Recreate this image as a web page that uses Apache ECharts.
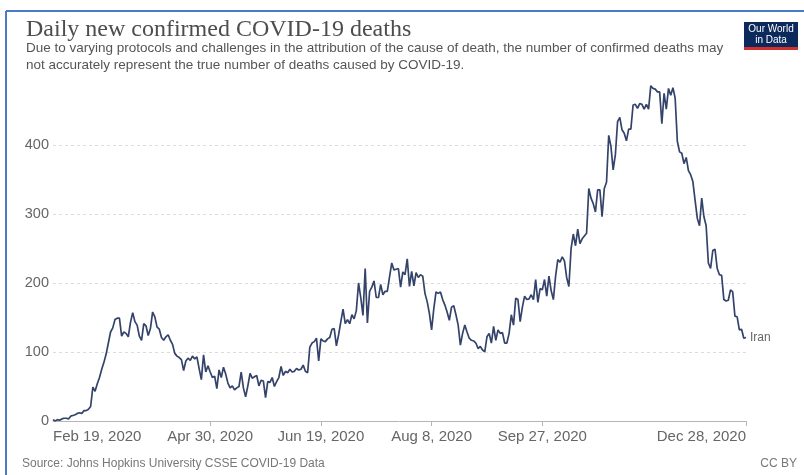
<!DOCTYPE html>
<html><head><meta charset="utf-8">
<script src="https://cdn.jsdelivr.net/npm/echarts@6/dist/echarts.min.js"></script>
<style>html,body{margin:0;padding:0;background:#fff}#c{width:804px;height:475px}</style>
</head><body><div id="c"></div>
<script>
// Iran, daily new confirmed COVID-19 deaths, Feb 19 2020 .. Dec 28 2020
const startYear = 2020, startMonth = 1, startDay = 19; // Feb 19, 2020
const feb = [2, 0, 2, 1, 3, 4, 4, 3, 7, 8, 9];
const mar = [11, 12, 11, 15, 15, 17, 21, 49, 43, 54, 63, 75, 85, 97, 113, 129, 135, 147, 149, 149, 123, 129, 127, 122, 143, 157, 144, 139, 123, 117, 141];
const apr = [138, 124, 134, 158, 151, 136, 133, 121, 117, 122, 125, 117, 111, 98, 94, 92, 89, 73, 87, 91, 88, 94, 90, 93, 76, 60, 96, 71, 80, 71];
const may = [63, 65, 47, 74, 63, 78, 68, 55, 48, 51, 45, 48, 50, 71, 48, 35, 51, 69, 62, 64, 66, 51, 59, 58, 34, 57, 56, 63, 50, 57, 63];
const jun = [79, 66, 72, 70, 75, 71, 72, 76, 74, 75, 81, 72, 70, 107, 113, 115, 120, 87, 119, 116, 115, 119, 121, 133, 134, 109, 125, 144, 162, 141];
const jul = [147, 141, 154, 148, 160, 200, 179, 153, 221, 142, 188, 194, 203, 179, 179, 198, 183, 188, 188, 209, 229, 219, 220, 221, 194, 216, 212, 235, 195, 217, 196];
const aug = [215, 208, 212, 210, 185, 173, 156, 132, 163, 187, 185, 187, 176, 168, 158, 146, 165, 167, 154, 139, 110, 127, 139, 129, 120, 117, 116, 113, 105, 108, 103];
const sep = [100, 122, 127, 113, 137, 117, 132, 127, 128, 113, 113, 127, 154, 139, 178, 176, 144, 165, 181, 176, 177, 183, 176, 205, 172, 192, 190, 205, 181, 210];
const oct = [189, 176, 210, 234, 230, 238, 232, 208, 195, 250, 271, 254, 278, 257, 264, 268, 272, 337, 323, 315, 303, 335, 335, 296, 337, 346, 414, 398, 364, 386, 434];
const nov = [440, 422, 417, 406, 423, 423, 458, 459, 453, 460, 459, 452, 459, 452, 486, 482, 481, 477, 477, 431, 475, 452, 482, 472, 483, 468, 405, 390, 388, 373];
const dec = [382, 363, 357, 347, 320, 294, 283, 323, 296, 283, 229, 221, 247, 249, 221, 212, 211, 176, 174, 175, 190, 187, 152, 151, 132, 133, 120, 121];
const tickLabels = ["Feb 19, 2020", "Apr 30, 2020", "Jun 19, 2020", "Aug 8, 2020", "Sep 27, 2020", "Dec 28, 2020"];
const seriesName = "Iran";

const values = [].concat(feb, mar, apr, may, jun, jul, aug, sep, oct, nov, dec);
const monthNames = ["Jan","Feb","Mar","Apr","May","Jun","Jul","Aug","Sep","Oct","Nov","Dec"];
const categories = values.map((v, i) => {
  const d = new Date(Date.UTC(startYear, startMonth, startDay + i));
  return monthNames[d.getUTCMonth()] + " " + d.getUTCDate() + ", " + d.getUTCFullYear();
});

const chart = echarts.init(document.getElementById('c'), null, {renderer: 'canvas'});
const sans = "'Liberation Sans', Arial, sans-serif";
chart.setOption({
  animation: false,
  backgroundColor: '#fff',
  title: [{
    text: 'Daily new confirmed COVID-19 deaths',
    left: 21, top: 12,
    textStyle: {fontFamily: "'Liberation Serif', serif", fontSize: 24, fontWeight: 'normal', color: '#4d4d4d', lineHeight: 26}
  }, {
    text: 'Due to varying protocols and challenges in the attribution of the cause of death, the number of confirmed deaths may\nnot accurately represent the true number of deaths caused by COVID-19.',
    left: 21, top: 35,
    textStyle: {fontFamily: sans, fontSize: 13.5, fontWeight: 'normal', color: '#555', lineHeight: 17}
  }],
  grid: {left: 53, right: 58, top: 76, bottom: 54, containLabel: false},
  xAxis: {
    type: 'category', data: categories, boundaryGap: false,
    axisLine: {show: true, lineStyle: {color: '#b5b5b5', width: 1}},
    axisTick: {show: true, length: 5, lineStyle: {color: '#b5b5b5'},
      interval: (i, v) => i > 0 && tickLabels.indexOf(v) >= 0},
    axisLabel: {
      interval: (i, v) => tickLabels.indexOf(v) >= 0,
      color: '#666', fontFamily: sans, fontSize: 15, margin: 8,
      alignMinLabel: 'left', alignMaxLabel: 'right', hideOverlap: false
    },
    splitLine: {show: false}
  },
  yAxis: {
    type: 'value', min: 0, max: 500, interval: 100,
    axisLine: {show: false}, axisTick: {show: false},
    axisLabel: {color: '#666', fontFamily: sans, fontSize: 14.5, margin: 4, showMaxLabel: false},
    splitLine: {show: true, showMinLine: false, showMaxLine: false, lineStyle: {color: '#dcdcdc', type: [3, 3], width: 1}}
  },
  series: [{
    name: seriesName, type: 'line', data: values, showSymbol: false,
    lineStyle: {color: '#34436a', width: 1.7}, itemStyle: {color: '#34436a'},
    endLabel: {show: true, formatter: seriesName, color: '#666', fontFamily: sans, fontSize: 12, distance: 4}
  }],
  graphic: [
    {type: 'line', shape: {x1: 6, y1: 11, x2: 804, y2: 11}, style: {stroke: '#4a7cc4', lineWidth: 2}},
    {type: 'line', shape: {x1: 6, y1: 11, x2: 6, y2: 475}, style: {stroke: '#4a7cc4', lineWidth: 2}},
    {type: 'rect', shape: {x: 744, y: 22, width: 54, height: 28}, style: {fill: '#0b2a5b'}},
    {type: 'rect', shape: {x: 744, y: 47, width: 54, height: 3}, style: {fill: '#d0312d'}},
    {type: 'text', x: 771, y: 29, style: {text: 'Our World', fill: '#fff', font: "10px 'Liberation Sans', Arial", align: 'center', verticalAlign: 'middle'}},
    {type: 'text', x: 771, y: 40, style: {text: 'in Data', fill: '#fff', font: "10px 'Liberation Sans', Arial", align: 'center', verticalAlign: 'middle'}},
    {type: 'text', x: 22, y: 464, style: {text: 'Source: Johns Hopkins University CSSE COVID-19 Data', fill: '#777', font: "12px 'Liberation Sans', Arial", verticalAlign: 'middle'}},
    {type: 'text', x: 797, y: 464, style: {text: 'CC BY', fill: '#777', font: "12px 'Liberation Sans', Arial", align: 'right', verticalAlign: 'middle'}}
  ]
});
</script></body></html>
